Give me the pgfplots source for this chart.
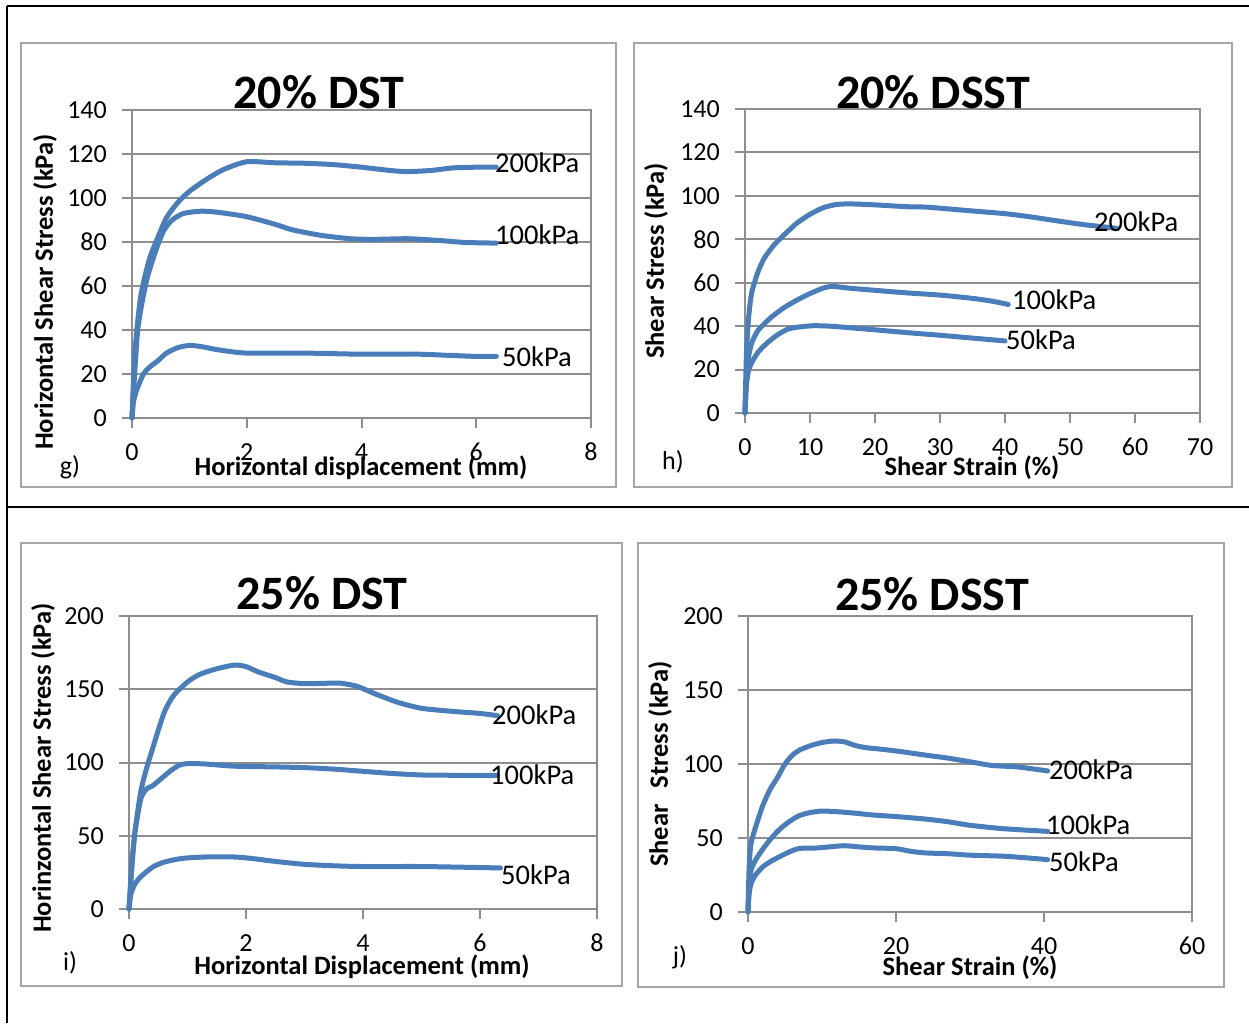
\documentclass[border=0pt]{standalone}
\usepackage{fontspec}
\setmainfont{Carlito}
\usepackage{pgfplots}
\pgfplotsset{compat=1.18}
\definecolor{curvec}{HTML}{4A7EBB}
\definecolor{gridc}{HTML}{8E8E8E}
\definecolor{framec}{HTML}{A6A6A6}
\pgfplotsset{
 panel/.style={
  scale only axis, anchor=south west, clip=false,
  axis line style={gridc, line width=2pt},
  ymajorgrids, grid style={gridc, line width=2pt},
  tick pos=left, tick align=outside, major tick length=10pt,
  tick style={gridc, line width=2pt},
  /pgf/number format/assume math mode=true,
  ticklabel style={font=\fontsize{26}{30}\selectfont, inner sep=0pt},
  xticklabel style={anchor=center, yshift=-24pt},
  yticklabel style={anchor=east, xshift=-15pt},
 },
 crv/.style={curvec, line width=5pt, line cap=round, line join=round, smooth, tension=0.4, no markers},
}
\newcommand{\tk}{\fontsize{26}{30}\selectfont}
\newcommand{\lb}{\fontsize{28.5}{33}\selectfont}
\newcommand{\ax}{\fontsize{26.5}{31}\selectfont\bfseries}
\newcommand{\ti}{\fontsize{48}{54}\selectfont\bfseries}
\begin{document}
\begin{tikzpicture}[x=1pt,y=1pt]
\path[use as bounding box] (0,0) rectangle (1249,-1023);
% outer table lines
\draw[black, line width=2.5pt] (7,-6) -- (1249,-6);
\draw[black, line width=2.5pt] (7,-507) -- (1249,-507);
\draw[black, line width=2.5pt] (7,-6) -- (7,-1023);
% frames
\draw[framec, line width=2pt] (21,-43) rectangle (616,-487);
\draw[framec, line width=2pt] (634,-43) rectangle (1232,-487);
\draw[framec, line width=2pt] (21,-543) rectangle (622,-986);
\draw[framec, line width=2pt] (638,-543) rectangle (1224,-987);

% ---------- g ----------
\begin{axis}[panel, at={(132pt,-418pt)}, width=459pt, height=308pt,
  xmin=0, xmax=8, xtick={0,2,4,6,8}, ymin=0, ymax=140, ytick={0,20,...,140}]
\addplot[crv] coordinates {(0,0)(0.05,30)(0.15,55)(0.3,72)(0.45,82)(0.6,91)(0.8,98)(1.0,103)(1.3,108.5)(1.6,113)(2.0,116.5)(2.5,116)(3.0,115.8)(3.5,115.2)(4.0,114)(4.5,112.5)(4.8,112)(5.2,112.5)(5.6,113.7)(6.0,114)(6.35,114)};
\addplot[crv] coordinates {(0,0)(0.1,40)(0.25,62)(0.4,75)(0.55,85)(0.7,90)(0.9,93)(1.2,94)(1.5,93.5)(2.0,91.5)(2.5,88)(2.8,85.5)(3.3,83)(3.8,81.5)(4.2,81.2)(4.8,81.5)(5.3,80.8)(5.8,79.8)(6.35,79.5)};
\addplot[crv] coordinates {(0,0)(0.03,8)(0.1,14)(0.2,20)(0.3,23)(0.45,26)(0.6,29.5)(0.8,32)(1.0,33)(1.2,32.5)(1.5,31)(2.0,29.5)(3.0,29.5)(4.0,29)(5.0,29)(5.5,28.5)(6.0,28)(6.35,28)};
\end{axis}
\node[anchor=base, inner sep=0pt, font=\ti] at (319,-108) {20\% DST};
\node[rotate=90, inner sep=0pt, font=\ax] at (45,-292) {Horizontal Shear Stress (kPa)};
\node[inner sep=0pt, font=\ax] at (361,-468) {Horizontal displacement (mm)};
\node[inner sep=0pt, font=\tk] at (70,-467) {g)};
\node[anchor=west, inner sep=0pt, font=\lb] at (495,-163) {200kPa};
\node[anchor=west, inner sep=0pt, font=\lb] at (495,-235) {100kPa};
\node[anchor=west, inner sep=0pt, font=\lb] at (502,-357) {50kPa};

% ---------- h ----------
\begin{axis}[panel, at={(745pt,-413pt)}, width=455pt, height=304pt,
  xmin=0, xmax=70, xtick={0,10,...,70}, ymin=0, ymax=140, ytick={0,20,...,140}]
\addplot[crv] coordinates {(0,0)(0.2,25)(0.5,42)(1,55)(2,65)(3,71.5)(4.5,77.5)(6,82)(8,87.5)(10,91.5)(12,94.5)(14,96)(16,96.3)(19,96)(22,95.5)(25,95)(28,94.8)(32,93.8)(36,92.8)(40,91.8)(44,90.3)(48,88.5)(52,86.8)(55,85.8)(57.3,85)};
\addplot[crv] coordinates {(0,0)(0.2,15)(0.5,25)(1,32)(2,38)(4,44)(6,48.5)(8,52)(10,55)(12,57.5)(13.5,58.3)(16,57.5)(20,56.5)(25,55.3)(30,54.3)(35,52.8)(38,51.5)(40.5,50)};
\addplot[crv] coordinates {(0,0)(0.2,12)(0.5,19)(1,23)(2,28)(3.5,32.5)(5,36)(6.5,38.5)(8,39.5)(10.5,40.2)(13,40)(16,39.3)(20,38.3)(25,37)(30,35.8)(35,34.5)(40,33.2)};
\end{axis}
\node[anchor=base, inner sep=0pt, font=\ti] at (933,-108) {20\% DSST};
\node[rotate=90, inner sep=0pt, font=\ax] at (656,-261) {Shear Stress (kPa)};
\node[inner sep=0pt, font=\ax] at (972,-468) {Shear Strain (\%)};
\node[inner sep=0pt, font=\tk] at (673,-462) {h)};
\node[anchor=west, inner sep=0pt, font=\lb] at (1094,-222) {200kPa};
\node[anchor=west, inner sep=0pt, font=\lb] at (1012,-300) {100kPa};
\node[anchor=west, inner sep=0pt, font=\lb] at (1006,-340) {50kPa};

% ---------- i ----------
\begin{axis}[panel, at={(129pt,-909pt)}, width=468pt, height=293pt,
  xmin=0, xmax=8, xtick={0,2,4,6,8}, ymin=0, ymax=200, ytick={0,50,...,200}]
\addplot[crv] coordinates {(0,0)(0.05,30)(0.1,52)(0.2,80)(0.3,96)(0.4,109)(0.5,122)(0.6,134)(0.7,142)(0.8,147.5)(1.0,155)(1.2,160)(1.5,164)(1.8,166.5)(2.0,165.5)(2.2,162)(2.5,158)(2.7,155)(3.0,153.8)(3.3,154)(3.6,154.2)(3.9,152)(4.2,147)(4.6,141)(5.0,137)(5.5,135)(6.0,133.5)(6.3,132)};
\addplot[crv] coordinates {(0,0)(0.05,30)(0.1,52)(0.2,75)(0.3,82)(0.4,84)(0.55,89)(0.7,94)(0.85,98)(1.0,99.3)(1.3,99)(1.8,97.5)(2.5,97)(3.0,96.5)(3.5,95.5)(4.0,94)(4.5,92.5)(5.0,91.5)(5.5,91.3)(6.3,91.3)};
\addplot[crv] coordinates {(0,0)(0.03,10)(0.1,17)(0.2,22)(0.4,28.5)(0.6,32)(0.9,34.5)(1.3,35.5)(1.8,35.5)(2.1,34.5)(2.5,32.5)(3.0,30.5)(3.5,29.5)(4.0,29)(5.0,29)(6.0,28.3)(6.35,28)};
\end{axis}
\node[anchor=base, inner sep=0pt, font=\ti] at (322,-609) {25\% DST};
\node[rotate=90, inner sep=0pt, font=\ax] at (43,-768) {Horinzontal Shear Stress (kPa)};
\node[inner sep=0pt, font=\ax] at (362,-967) {Horizontal Displacement (mm)};
\node[inner sep=0pt, font=\tk] at (70,-963) {i)};
\node[anchor=west, inner sep=0pt, font=\lb] at (492,-715) {200kPa};
\node[anchor=west, inner sep=0pt, font=\lb] at (490,-775) {100kPa};
\node[anchor=west, inner sep=0pt, font=\lb] at (501,-875) {50kPa};

% ---------- j ----------
\begin{axis}[panel, at={(748pt,-912pt)}, width=444pt, height=296pt,
  xmin=0, xmax=60, xtick={0,20,40,60}, ymin=0, ymax=200, ytick={0,50,...,200}]
\addplot[crv] coordinates {(0,0)(0.15,30)(0.4,46)(1,57)(2,72)(3,83)(4,91)(5,100)(6,106)(7,109.5)(8.5,112.5)(10,114.5)(11.5,115.5)(13,115)(14.5,112.5)(16,111)(18,110)(20.5,108.5)(24,106)(27,104)(30,101.5)(33,99)(36.5,98)(40.5,95.3)};
\addplot[crv] coordinates {(0,0)(0.15,18)(0.4,28)(1,35)(2,42.5)(3,49)(4,54.5)(5,59)(6,62.5)(7,65.3)(8.5,67.3)(10,68.2)(12,67.8)(14,67)(17,65.5)(20,64.5)(24,62.8)(27,61)(30,58.6)(34,56.5)(37,55.5)(40.5,54.5)};
\addplot[crv] coordinates {(0,0)(0.15,12)(0.4,19)(1,25)(2,30.5)(3,34)(4.5,38)(6,41.5)(7,43)(9,43.2)(11,44)(13,44.8)(15,44)(17,43.3)(20,42.8)(22,41)(24,39.9)(27,39.4)(30,38.4)(35,37.6)(40.5,35.4)};
\end{axis}
\node[anchor=base, inner sep=0pt, font=\ti] at (932,-610) {25\% DSST};
\node[rotate=90, inner sep=0pt, font=\ax] at (660,-764) {Shear\hspace{0.6em}Stress (kPa)};
\node[inner sep=0pt, font=\ax] at (970,-968) {Shear Strain (\%)};
\node[inner sep=0pt, font=\tk] at (680,-957) {j)};
\node[anchor=west, inner sep=0pt, font=\lb] at (1049,-770) {200kPa};
\node[anchor=west, inner sep=0pt, font=\lb] at (1046,-825) {100kPa};
\node[anchor=west, inner sep=0pt, font=\lb] at (1049,-862) {50kPa};
\end{tikzpicture}
\end{document}
